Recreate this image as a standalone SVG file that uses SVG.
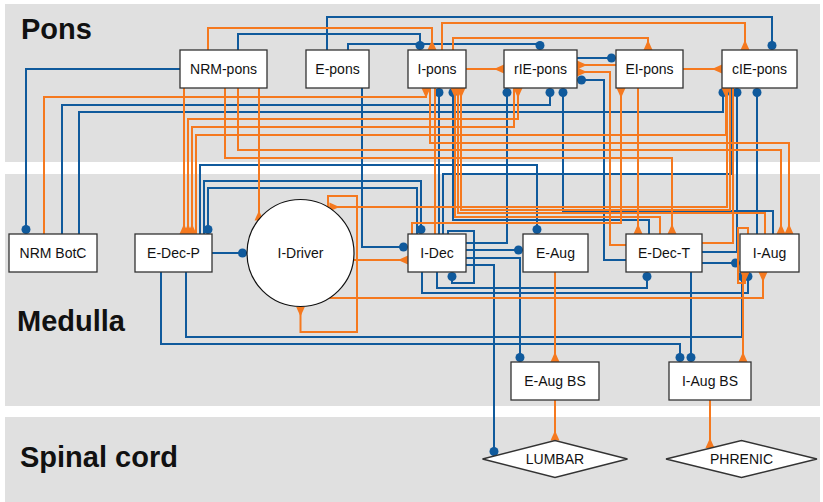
<svg xmlns="http://www.w3.org/2000/svg" width="823" height="502" viewBox="0 0 823 502">
<style>
.band{fill:#e0e0e0}
.title{font-family:"Liberation Sans",Arial,sans-serif;font-weight:bold;font-size:29px;fill:#111}
.box{fill:#fff;stroke:#333;stroke-width:1.3}
.lbl{font-family:"Liberation Sans",Arial,sans-serif;font-size:14px;fill:#111;text-anchor:middle;dominant-baseline:central}
.b{fill:none;stroke:#105a9c;stroke-width:2;marker-end:url(#dot)}
.o{fill:none;stroke:#f5791f;stroke-width:2;marker-end:url(#arr)}
.on{fill:none;stroke:#f5791f;stroke-width:2}
</style>
<defs>
<marker id="dot" viewBox="-10 -5 10 10" markerWidth="10" markerHeight="10" refX="0" refY="0" orient="auto" markerUnits="userSpaceOnUse"><circle cx="-4.5" cy="0" r="4.5" fill="#105a9c"/></marker>
<marker id="arr" viewBox="-11 -5 11 10" markerWidth="11" markerHeight="10" refX="0" refY="0" orient="auto" markerUnits="userSpaceOnUse"><path d="M0,-4.5 L0,4.5 L-10,0 Z" fill="#f5791f"/></marker>
<marker id="arrs" viewBox="-11 -5 11 10" markerWidth="11" markerHeight="10" refX="0" refY="0" orient="auto-start-reverse" markerUnits="userSpaceOnUse"><path d="M0,-4.5 L0,4.5 L-10,0 Z" fill="#f5791f"/></marker>
</defs>
<rect class="band" x="5" y="4" width="815" height="158"/>
<rect class="band" x="5" y="174" width="815" height="232"/>
<rect class="band" x="5" y="417" width="815" height="85"/>
<text class="title" x="21" y="39">Pons</text>
<text class="title" x="17" y="331">Medulla</text>
<text class="title" x="20" y="467">Spinal cord</text>
<g id="connectors">
<path class="b" d="M180,69 H26 V234"/>
<path class="b" d="M238,50 V34 H420 V50"/>
<path class="b" d="M348,50 V44 H540 V50"/>
<path class="b" d="M327,50 V17 H772 V50"/>
<path class="b" d="M62,234 V105 H550 V88"/>
<path class="b" d="M79,234 V112 H723 V88"/>
<path class="b" d="M362,88 V247 H408"/>
<path class="b" d="M212,253 H247"/>
<path class="b" d="M200,234 V165 H537 V234"/>
<path class="b" d="M204,234 V181 H421 V234"/>
<path class="b" d="M417,234 V188 H208 V234"/>
<path class="b" d="M439,234 V88"/>
<path class="b" d="M443,234 V174 H732 V88"/>
<path class="b" d="M448,234 V231 H474 V283 H452 V272"/>
<path class="b" d="M466,243 H507 V88"/>
<path class="b" d="M466,250 H523"/>
<path class="b" d="M466,258 H520 V362"/>
<path class="b" d="M466,265 H494 V456"/>
<path class="b" d="M422,272 V293 H748 V272"/>
<path class="b" d="M437,272 V288 H647 V272"/>
<path class="b" d="M649,234 V220 H453 V88"/>
<path class="b" d="M773,234 V211 H563 V88"/>
<path class="b" d="M757,234 V88"/>
<path class="b" d="M626,260 H604 V80 H577"/>
<path class="b" d="M702,252 H737 V88"/>
<path class="b" d="M702,263 H740"/>
<path class="b" d="M691,272 V362"/>
<path class="b" d="M161,272 V344 H680 V362"/>
<path class="b" d="M186,272 V337 H742 V272"/>
<path class="b" d="M577,58 H616"/>
<path class="o" d="M208,50 V28 H432 V50"/>
<path class="o" d="M442,50 V23 H745 V50"/>
<path class="o" d="M453,50 V38 H648 V50"/>
<path class="o" d="M466,69 H504"/>
<path class="o" d="M616,65 H577"/>
<path class="o" d="M626,245 H610 V72 H577"/>
<path class="o" d="M683,69 H722"/>
<path class="o" d="M184,88 V234"/>
<path class="o" d="M225,88 V158 H672 V234"/>
<path class="o" d="M238,88 V150 H781 V234"/>
<path class="o" d="M259,88 V220.5"/>
<path class="o" d="M44,234 V97 H426 V88"/>
<path class="o" d="M188,234 V119 H518 V88" marker-start="url(#arrs)"/>
<path class="o" d="M514,88 V127 H192 V234"/>
<path class="o" d="M196,234 V135 H726 V88"/>
<path class="o" d="M430,88 V143 H789 V234"/>
<path class="on" d="M435,88 V234"/>
<path class="o" d="M660,234 V217 H455 V88"/>
<path class="o" d="M765,234 V213 H458 V88"/>
<path class="o" d="M730,88 V210 H461 V88"/>
<path class="o" d="M412,234 V223 H621 V88"/>
<path class="o" d="M638,88 V234"/>
<path class="o" d="M727,88 V207 H329.4"/>
<path class="on" d="M702,243 H733 V88"/>
<path class="o" d="M328,207 V196 H357 V332 H300.5 V306.5"/>
<path class="o" d="M353.5,260 H408"/>
<path class="o" d="M329.4,298 H763 V272"/>
<path class="o" d="M748,234 V228 H738 V283 H745 V272"/>
<path class="o" d="M743,272 V362"/>
<path class="o" d="M555,272 V362"/>
<path class="o" d="M555,400 V440.5"/>
<path class="o" d="M710,400 V448"/>
</g>
<g id="nrm-pons"><rect class="box" x="180" y="50" width="87" height="38"/><text class="lbl" x="223.5" y="69">NRM-pons</text></g>
<g id="e-pons"><rect class="box" x="306" y="50" width="63" height="38"/><text class="lbl" x="337.5" y="69">E-pons</text></g>
<g id="i-pons"><rect class="box" x="408" y="50" width="58" height="38"/><text class="lbl" x="437" y="69">I-pons</text></g>
<g id="rie-pons"><rect class="box" x="504" y="50" width="73" height="38"/><text class="lbl" x="540.5" y="69">rIE-pons</text></g>
<g id="ei-pons"><rect class="box" x="616" y="50" width="67" height="38"/><text class="lbl" x="649.5" y="69">EI-pons</text></g>
<g id="cie-pons"><rect class="box" x="722" y="50" width="75" height="38"/><text class="lbl" x="759.5" y="69">cIE-pons</text></g>
<g id="nrm-botc"><rect class="box" x="9" y="234" width="88" height="38"/><text class="lbl" x="53" y="253">NRM BotC</text></g>
<g id="e-dec-p"><rect class="box" x="135" y="234" width="77" height="38"/><text class="lbl" x="173.5" y="253">E-Dec-P</text></g>
<g id="i-driver"><circle cx="300.5" cy="253" r="53.5" fill="#fff" stroke="#111" stroke-width="1.2"/><text class="lbl" x="300.5" y="253">I-Driver</text></g>
<g id="i-dec"><rect class="box" x="408" y="234" width="58" height="38"/><text class="lbl" x="437" y="253">I-Dec</text></g>
<g id="e-aug"><rect class="box" x="523" y="234" width="65" height="38"/><text class="lbl" x="555.5" y="253">E-Aug</text></g>
<g id="e-dec-t"><rect class="box" x="626" y="234" width="76" height="38"/><text class="lbl" x="664" y="253">E-Dec-T</text></g>
<g id="i-aug"><rect class="box" x="740" y="234" width="59" height="38"/><text class="lbl" x="769.5" y="253">I-Aug</text></g>
<g id="e-aug-bs"><rect class="box" x="511" y="362" width="88" height="38"/><text class="lbl" x="555" y="381">E-Aug BS</text></g>
<g id="i-aug-bs"><rect class="box" x="669" y="362" width="82" height="38"/><text class="lbl" x="710" y="381">I-Aug BS</text></g>
<g id="lumbar"><polygon class="box" points="482.5,459 555,440.5 627.5,459 555,477.5"/><text class="lbl" x="555" y="459">LUMBAR</text></g>
<g id="phrenic"><polygon class="box" points="666,459 741.5,440.5 817,459 741.5,477.5"/><text class="lbl" x="741.5" y="459">PHRENIC</text></g>
</svg>
